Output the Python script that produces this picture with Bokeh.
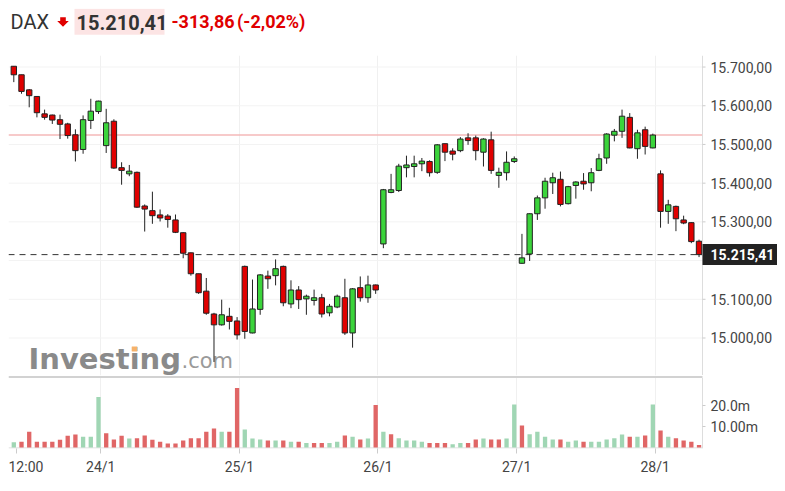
from bokeh.plotting import figure
from bokeh.layouts import column
from bokeh.models import FixedTicker, Grid, ColumnDataSource, Range1d
from bokeh.core.properties import value
from bokeh.embed import file_html
from bokeh.resources import INLINE

# ---------------- data (30-min candles, DAX, 21/1 12:00 .. 28/1) ----------------
opens = [15702, 15680, 15641, 15624, 15579, 15576, 15564, 15553, 15525, 15487, 15562, 15585,
         15497, 15560, 15440, 15424, 15428, 15341, 15329, 15318, 15315, 15305, 15272, 15220,
         15166, 15121, 15062, 15034, 15056, 15044,
         15185, 15013, 15074, 15160, 15161, 15185, 15088, 15124, 15101, 15097, 15104, 15065,
         15080, 15104, 15013, 15130, 15104, 15137,
         15243, 15376, 15381, 15440, 15443, 15450, 15456, 15428, 15502, 15483, 15484, 15517,
         15517, 15480, 15512, 15420, 15427, 15456,
         15193, 15217, 15321, 15362, 15401, 15410, 15347, 15394, 15405, 15401, 15433, 15465,
         15524, 15534, 15570, 15489, 15538, 15491,
         15424, 15327, 15340, 15305, 15298, 15250]
highs = [15702, 15680, 15643, 15625, 15590, 15577, 15577, 15556, 15539, 15575, 15618, 15613,
         15592, 15565, 15454, 15447, 15430, 15345, 15378, 15332, 15320, 15319, 15273, 15221,
         15166, 15155, 15065, 15099, 15078, 15054,
         15187, 15151, 15165, 15174, 15203, 15187, 15149, 15134, 15112, 15125, 15114, 15088,
         15112, 15153, 15129, 15159, 15161, 15138,
         15385, 15424, 15450, 15471, 15471, 15465, 15459, 15501, 15502, 15490, 15519, 15529,
         15523, 15516, 15533, 15440, 15482, 15469,
         15269, 15322, 15368, 15414, 15427, 15430, 15393, 15405, 15426, 15439, 15476, 15529,
         15540, 15590, 15581, 15538, 15546, 15528,
         15433, 15357, 15342, 15316, 15299, 15254]
lows = [15661, 15631, 15596, 15570, 15564, 15553, 15514, 15515, 15456, 15476, 15540, 15579,
        15478, 15437, 15396, 15418, 15336, 15275, 15295, 15301, 15285, 15271, 15206, 15161,
        15114, 15060, 14938, 15032, 15022, 14996,
        14998, 15012, 15060, 15127, 15136, 15082, 15077, 15075, 15060, 15084, 15053, 15056,
        15077, 15008, 14975, 15094, 15091, 15114,
        15232, 15374, 15377, 15415, 15415, 15431, 15417, 15424, 15457, 15459, 15480, 15499,
        15459, 15443, 15424, 15388, 15407, 15452,
        15192, 15199, 15305, 15334, 15372, 15340, 15345, 15360, 15383, 15379, 15431, 15450,
        15508, 15517, 15490, 15463, 15474, 15490,
        15285, 15295, 15276, 15294, 15245, 15209]
closes = [15680, 15637, 15626, 15582, 15570, 15563, 15552, 15523, 15484, 15564, 15586, 15612,
          15556, 15439, 15433, 15431, 15338, 15333, 15316, 15310, 15306, 15273, 15219, 15166,
          15117, 15064, 15034, 15060, 15043, 15008,
          15017, 15075, 15163, 15153, 15179, 15091, 15124, 15099, 15108, 15104, 15062, 15082,
          15108, 15013, 15127, 15104, 15137, 15124,
          15383, 15383, 15444, 15447, 15450, 15457, 15427, 15499, 15480, 15475, 15514, 15510,
          15484, 15514, 15433, 15428, 15454, 15463,
          15207, 15321, 15362, 15405, 15414, 15345, 15391, 15403, 15398, 15427, 15463, 15527,
          15534, 15573, 15491, 15530, 15495, 15524.27,
          15327, 15344, 15308, 15297, 15249, 15215.41]
volumes = [2.5, 2.7, 7.5, 2.7, 2.7, 2.7, 3.7, 5.6, 6.2, 5.1, 5.1, 24.1,
           6.8, 3.8, 5.6, 4.3, 4.4, 5.7, 3.7, 2.7, 1.9, 1.9, 3.3, 4.4, 4.4, 7.5, 9.0, 7.5, 7.5, 28.3,
           8.6, 4.3, 3.8, 3.3, 3.3, 3.3, 2.7, 2.7, 2.1, 2.1, 2.1, 2.1, 2.7, 5.7, 5.1, 3.8, 4.3, 20.2,
           7.5, 6.3, 4.4, 3.3, 3.3, 2.7, 2.1, 2.1, 2.1, 1.6, 2.1, 2.1, 3.8, 4.3, 3.8, 3.8, 4.3, 20.5,
           10.5, 6.3, 7.5, 5.1, 3.8, 3.8, 2.7, 3.3, 2.7, 2.7, 2.7, 3.8, 4.4, 6.2, 5.1, 5.1, 5.7, 20.5,
           8.1, 5.1, 4.4, 3.3, 2.7, 1.2]
vol_up = [1, 0, 0, 0, 0, 0, 0, 0, 0, 1, 1, 1,
          0, 0, 0, 1, 0, 0, 0, 0, 0, 0, 0, 0, 0, 0, 0, 1, 0, 0,
          1, 1, 1, 0, 1, 0, 1, 0, 1, 0, 0, 1, 1, 0, 1, 0, 1, 0,
          1, 0, 1, 1, 1, 1, 0, 0, 0, 1, 1, 0, 0, 1, 0, 0, 1, 1,
          0, 1, 1, 1, 1, 0, 1, 1, 0, 1, 1, 1, 1, 1, 0, 1, 0, 1,
          0, 1, 0, 0, 0, 0]
date_labels = ["12:00", "24/1", "25/1", "26/1", "27/1", "28/1"]
date_ticks = [0.3, 11.3, 29.3, 47.3, 65.3, 83.3]
price_ticks = [15000, 15100, 15200, 15300, 15400, 15500, 15600, 15700]
vol_ticks = [10, 20]
vol_tick_labels = ["10.00m", "20.0m"]
prev_close = 15524.27
last_price = 15215.41
header_name = "DAX"
header_price = "15.210,41"
header_change = "-313,86"
header_pct = "(-2,02%)"

# ---------------- style / geometry ----------------
FONT = "Roboto"
UP, DOWN = "#3bd43b", "#e00000"
VUP, VDOWN = "#a0d6b4", "#e06666"
W = 769                      # canvas width (page x 8 .. 777)
PLOT_W = 694                 # plotting area width (page x 8 .. 702)
X0, XA = -0.69, 89.45        # index range of the plotting area
PX = PLOT_W / (XA - X0)      # pixels per candle
XR = X0 + W / PX             # canvas right edge in index units
Y0, Y1 = 14903.1, 15729.8
PH = 320
YS = PH / (Y1 - Y0)          # pixels per index point
V0, V1 = -0.476, 34.29
VH = 73
VS = VH / (V1 - V0)


def euro(v, dec=2):
    s = f"{v:,.{dec}f}"
    return s.replace(",", "X").replace(".", ",").replace("X", ".")


def dx(px):          # page x pixel -> index units
    return X0 + (px - 8) / PX


def dy(py):          # page y pixel -> price units (price panel starts at page y 55)
    return Y1 - (py - 55) / YS


x_range = Range1d(X0, XR)

# ---------------- header ----------------
h = figure(width=W, height=47, x_range=Range1d(0, W), y_range=Range1d(47, 0),
           toolbar_location=None, output_backend="svg", min_border=0,
           x_axis_location=None, y_axis_location=None, outline_line_color=None)
h.grid.visible = False
h.quad(left=[66], right=[156], top=[0.3], bottom=[26.3], fill_color="#fce4e4", line_color=None)
h.patch(x=[51.7, 57.3, 57.3, 60.3, 54.5, 48.7, 51.7], y=[8.7, 8.7, 12.6, 12.6, 18.3, 12.6, 12.6],
        fill_color="#e00000", line_color=None)
h.text(x=[2], y=[13.2], text=[header_name], text_font=value(FONT), text_font_size="20px",
       text_color="#333333", text_baseline="alphabetic", text_align="left")
h.text(x=[68], y=[13.7], text=[header_price], text_font=value(FONT), text_font_size="20px",
       text_font_style=value("bold"), text_color="#333333", text_baseline="alphabetic")
h.text(x=[163, 228.5], y=[13.2, 13.2], text=[header_change, header_pct], text_font=value(FONT),
       text_font_size="18px", text_font_style=value("bold"), text_color="#e00000",
       text_baseline="alphabetic")

# ---------------- price panel ----------------
p = figure(width=W, height=PH, x_range=x_range, y_range=Range1d(Y0, Y1),
           y_axis_location=None, x_axis_location=None, toolbar_location=None,
           output_backend="svg", min_border=0, outline_line_color=None)
p.grid.visible = False
p.add_layout(Grid(dimension=0, ticker=FixedTicker(ticks=date_ticks[1:]), grid_line_color="#f0f0f0"))
n_pt = len(price_ticks)
p.segment(x0=[X0] * n_pt, y0=price_ticks, x1=[XA] * n_pt, y1=price_ticks,
          line_color="#f3f3f3", line_width=1)

# watermark
p.text(x=[dx(28)], y=[dy(358)], text=["Investing"], text_font=value("DejaVu Sans"),
       text_font_size="29px", text_font_style=value("bold"), text_color="#8a8a8a",
       text_baseline="alphabetic")
p.text(x=[dx(181)], y=[dy(360.8)], text=[".com"], text_font=value("DejaVu Sans"),
       text_font_size="21px", text_color="#9a9a9a", text_baseline="alphabetic")
p.quad(left=[dx(131.3)], right=[dx(136.8)], top=[dy(346)], bottom=[dy(351)],
       fill_color="#f6b26b", line_color=None)

# reference lines
p.segment(x0=[X0], y0=[prev_close], x1=[XA], y1=[prev_close], line_color="#f5b8b8", line_width=1.5)
p.segment(x0=[X0], y0=[last_price], x1=[XA], y1=[last_price], line_color="#333333",
          line_width=1, line_dash="6 5")

# candles
idx = list(range(len(opens)))
src = ColumnDataSource(dict(
    x=idx, h=highs, l=lows,
    top=[max(o, c) for o, c in zip(opens, closes)],
    bottom=[min(o, c) for o, c in zip(opens, closes)],
    fill=[UP if c >= o else DOWN for o, c in zip(opens, closes)]))
p.segment(x0="x", y0="h", x1="x", y1="l", source=src, line_color="#222222", line_width=1)
p.vbar(x="x", width=0.7, top="top", bottom="bottom", source=src, fill_color="fill",
       line_color="#222222", line_width=1)

# right price axis (drawn by hand so the last-price box can sit on it)
p.segment(x0=[XA], y0=[Y0], x1=[XA], y1=[Y1], line_color="#dddddd", line_width=1)
p.segment(x0=[XA] * n_pt, y0=price_ticks, x1=[XA + 3 / PX] * n_pt, y1=price_ticks,
          line_color="#cccccc", line_width=1)
shown = [t for t in price_ticks if abs(t - last_price) * YS > 14]
p.text(x=[XA + 8 / PX] * len(shown), y=shown, text=[euro(t) for t in shown],
       text_font=value(FONT), text_font_size="14px", text_color="#444444",
       text_baseline="alphabetic", text_align="left")
p.quad(left=[XA], right=[XR], top=[last_price + 10.5 / YS], bottom=[last_price - 10.5 / YS],
       fill_color="#222222", line_color=None)
p.text(x=[XA + 8 / PX], y=[last_price], text=[euro(last_price)], text_font=value(FONT),
       text_font_size="14px", text_font_style=value("bold"), text_color="white",
       text_baseline="alphabetic", text_align="left")

# ---------------- volume panel ----------------
v = figure(width=W, height=VH + 35, x_range=x_range, y_range=Range1d(V0, V1),
           y_axis_location=None, x_axis_location="below", toolbar_location=None,
           output_backend="svg", min_border_left=0, min_border_right=0,
           min_border_top=0, min_border_bottom=35, outline_line_color=None)
v.grid.visible = False
v.add_layout(Grid(dimension=0, ticker=FixedTicker(ticks=date_ticks[1:]), grid_line_color="#f0f0f0"))
xa = v.xaxis[0]
xa.ticker = FixedTicker(ticks=date_ticks)
xa.major_label_overrides = {t: s for t, s in zip(date_ticks, date_labels)}
xa.axis_line_color = None
xa.major_tick_line_color = "#cccccc"
xa.major_tick_in = 0
xa.major_tick_out = 5
xa.minor_tick_line_color = None
xa.major_label_standoff = 5
xa.major_label_text_font = FONT
xa.major_label_text_font_size = "14px"
xa.major_label_text_color = "#444444"

# separator between the panels and bottom axis line
v.segment(x0=[X0], y0=[V1 - 1.5 / VS], x1=[XA], y1=[V1 - 1.5 / VS], line_color="#d2d2d2", line_width=2)
v.segment(x0=[X0], y0=[V0 + 0.5 / VS], x1=[XA], y1=[V0 + 0.5 / VS], line_color="#d6d6d6", line_width=1)

vsrc = ColumnDataSource(dict(x=idx, vol=volumes, color=[VUP if u else VDOWN for u in vol_up]))
v.vbar(x="x", width=0.56, top="vol", bottom=0, source=vsrc, fill_color="color", line_color=None)

# right volume axis
n_vt = len(vol_ticks)
v.segment(x0=[XA], y0=[V0], x1=[XA], y1=[V1 - 2.5 / VS], line_color="#dddddd", line_width=1)
v.segment(x0=[XA] * n_vt, y0=vol_ticks, x1=[XA + 3 / PX] * n_vt, y1=vol_ticks,
          line_color="#cccccc", line_width=1)
v.text(x=[XA + 8 / PX] * n_vt, y=vol_ticks, text=vol_tick_labels, text_font=value(FONT),
       text_font_size="14px", text_color="#444444", text_baseline="alphabetic", text_align="left")

layout = column(h, p, v, spacing=0, margin=(8, 0, 0, 8))
open("out.html", "w").write(file_html(layout, INLINE))
